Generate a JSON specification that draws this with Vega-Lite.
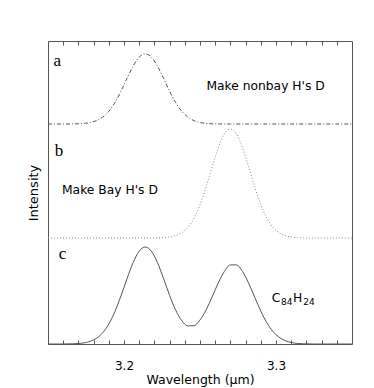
{
  "$schema": "https://vega.github.io/schema/vega-lite/v6.json",
  "width": 304,
  "height": 303,
  "autosize": "none",
  "padding": {"left": 48, "top": 41, "right": 22, "bottom": 44},
  "background": "white",
  "config": {"view": {"stroke": "#555", "strokeWidth": 1}},
  "datasets": {
    "spec": [
      {"w": 3.150, "a": 220, "b": 106, "c": 0},
      {"w": 3.154, "a": 220, "b": 106, "c": 0},
      {"w": 3.158, "a": 220, "b": 106, "c": 0},
      {"w": 3.162, "a": 220, "b": 106, "c": 0.1},
      {"w": 3.166, "a": 220.1, "b": 106, "c": 0.2},
      {"w": 3.170, "a": 220.2, "b": 106, "c": 0.5},
      {"w": 3.174, "a": 220.6, "b": 106, "c": 1.2},
      {"w": 3.178, "a": 221.5, "b": 106, "c": 2.8},
      {"w": 3.182, "a": 223.4, "b": 106, "c": 5.8},
      {"w": 3.186, "a": 226.9, "b": 106, "c": 11.3},
      {"w": 3.190, "a": 232.7, "b": 106, "c": 20.0},
      {"w": 3.194, "a": 241.4, "b": 106, "c": 32.4},
      {"w": 3.198, "a": 252.8, "b": 106, "c": 48.1},
      {"w": 3.202, "a": 265.7, "b": 106, "c": 65.4},
      {"w": 3.206, "a": 277.9, "b": 106, "c": 81.4},
      {"w": 3.210, "a": 286.8, "b": 106, "c": 92.8},
      {"w": 3.214, "a": 290, "b": 106, "c": 97.0},
      {"w": 3.218, "a": 286.8, "b": 106, "c": 92.8},
      {"w": 3.222, "a": 277.9, "b": 106.1, "c": 81.5},
      {"w": 3.226, "a": 265.7, "b": 106.4, "c": 65.6},
      {"w": 3.230, "a": 252.8, "b": 107.0, "c": 48.7},
      {"w": 3.234, "a": 241.4, "b": 108.4, "c": 33.9},
      {"w": 3.238, "a": 232.7, "b": 111.3, "c": 23.4},
      {"w": 3.242, "a": 226.9, "b": 116.7, "c": 18.1},
      {"w": 3.246, "a": 223.4, "b": 125.8, "c": 18.3},
      {"w": 3.250, "a": 221.5, "b": 139.4, "c": 24.0},
      {"w": 3.254, "a": 220.6, "b": 157.1, "c": 34.1},
      {"w": 3.258, "a": 220.2, "b": 177.2, "c": 47.2},
      {"w": 3.262, "a": 220.1, "b": 196.1, "c": 61.0},
      {"w": 3.266, "a": 220, "b": 210.0, "c": 72.5},
      {"w": 3.270, "a": 220, "b": 215, "c": 79.1},
      {"w": 3.274, "a": 220, "b": 210.0, "c": 79.1},
      {"w": 3.278, "a": 220, "b": 196.1, "c": 72.5},
      {"w": 3.282, "a": 220, "b": 177.2, "c": 60.8},
      {"w": 3.286, "a": 220, "b": 157.1, "c": 46.7},
      {"w": 3.290, "a": 220, "b": 139.4, "c": 32.9},
      {"w": 3.294, "a": 220, "b": 125.8, "c": 21.2},
      {"w": 3.298, "a": 220, "b": 116.7, "c": 12.5},
      {"w": 3.302, "a": 220, "b": 111.3, "c": 6.8},
      {"w": 3.306, "a": 220, "b": 108.4, "c": 3.4},
      {"w": 3.310, "a": 220, "b": 107.0, "c": 1.5},
      {"w": 3.314, "a": 220, "b": 106.4, "c": 0.6},
      {"w": 3.318, "a": 220, "b": 106.1, "c": 0.2},
      {"w": 3.322, "a": 220, "b": 106, "c": 0.1},
      {"w": 3.326, "a": 220, "b": 106, "c": 0},
      {"w": 3.330, "a": 220, "b": 106, "c": 0},
      {"w": 3.334, "a": 220, "b": 106, "c": 0},
      {"w": 3.338, "a": 220, "b": 106, "c": 0},
      {"w": 3.342, "a": 220, "b": 106, "c": 0},
      {"w": 3.346, "a": 220, "b": 106, "c": 0},
      {"w": 3.350, "a": 220, "b": 106, "c": 0}
    ],
    "labels": [
      {"w": 3.1537, "i": 278, "t": "a", "kind": "serif"},
      {"w": 3.1544, "i": 188, "t": "b", "kind": "serif"},
      {"w": 3.1570, "i": 85, "t": "c", "kind": "serif"},
      {"w": 3.2542, "i": 254, "t": "Make nonbay H's D", "kind": "sans"},
      {"w": 3.1592, "i": 150, "t": "Make Bay H's D", "kind": "sans"},
      {"w": 3.2972, "i": 42, "t": "C", "kind": "sans"},
      {"w": 3.3112, "i": 42, "t": "H", "kind": "sans"},
      {"w": 3.3033, "i": 39, "t": "84", "kind": "sub"},
      {"w": 3.3180, "i": 39, "t": "24", "kind": "sub"}
    ]
  },
  "resolve": {"axis": {"x": "independent", "y": "independent"}},
  "layer": [
    {
      "data": {"name": "spec"},
      "mark": {"type": "line", "color": "#555", "strokeWidth": 1, "strokeDash": [4, 2, 1, 2], "interpolate": "monotone"},
      "encoding": {
        "x": {"field": "w", "type": "quantitative", "scale": {"domain": [3.15, 3.35], "nice": false, "zero": false},
          "axis": {"orient": "bottom", "values": [3.16, 3.17, 3.18, 3.19, 3.2, 3.21, 3.22, 3.23, 3.24, 3.25, 3.26, 3.27, 3.28, 3.29, 3.3, 3.31, 3.32, 3.33, 3.34],
            "labelExpr": "(datum.value == 3.2 || datum.value == 3.3) ? format(datum.value, '.1f') : ''",
            "tickSize": -4, "ticks": true,
            "tickColor": "#555", "domain": false, "grid": false, "labelOverlap": false, "labelFlush": false,
            "labelFont": "DejaVu Sans", "labelFontSize": 12, "labelColor": "#000", "labelPadding": 20, "labelDx": -5,
            "title": "Wavelength (μm)", "titleFont": "DejaVu Sans", "titleFontSize": 12.5, "titleFontWeight": "normal", "titleColor": "#000", "titlePadding": 2}},
        "y": {"field": "a", "type": "quantitative", "scale": {"domain": [0, 303], "nice": false},
          "axis": {"orient": "left", "title": "Intensity", "ticks": false, "labels": false, "domain": false, "grid": false,
            "titleFont": "DejaVu Sans", "titleFontSize": 13, "titleFontWeight": "normal", "titleColor": "#000", "titlePadding": 8}}
      }
    },
    {
      "data": {"name": "spec"},
      "mark": {"type": "line", "color": "#888", "strokeWidth": 1, "strokeDash": [1, 2], "interpolate": "monotone"},
      "encoding": {
        "x": {"field": "w", "type": "quantitative",
          "axis": {"orient": "top", "values": [3.16, 3.17, 3.18, 3.19, 3.2, 3.21, 3.22, 3.23, 3.24, 3.25, 3.26, 3.27, 3.28, 3.29, 3.3, 3.31, 3.32, 3.33, 3.34],
            "labels": false, "title": null, "domain": false, "grid": false, "tickColor": "#555", "ticks": true, "tickSize": -4}},
        "y": {"field": "b", "type": "quantitative", "axis": null}
      }
    },
    {
      "data": {"name": "spec"},
      "mark": {"type": "line", "color": "#555", "strokeWidth": 1, "interpolate": "monotone"},
      "encoding": {
        "x": {"field": "w", "type": "quantitative", "axis": null},
        "y": {"field": "c", "type": "quantitative", "axis": null}
      }
    },
    {
      "data": {"name": "labels"},
      "transform": [{"filter": "datum.kind == 'serif'"}],
      "mark": {"type": "text", "align": "left", "baseline": "alphabetic", "font": "Liberation Serif", "fontSize": 17, "color": "#000"},
      "encoding": {
        "x": {"field": "w", "type": "quantitative", "axis": null},
        "y": {"field": "i", "type": "quantitative", "axis": null},
        "text": {"field": "t"}
      }
    },
    {
      "data": {"name": "labels"},
      "transform": [{"filter": "datum.kind == 'sans'"}],
      "mark": {"type": "text", "align": "left", "baseline": "alphabetic", "font": "DejaVu Sans", "fontSize": 12.3, "color": "#000"},
      "encoding": {
        "x": {"field": "w", "type": "quantitative", "axis": null},
        "y": {"field": "i", "type": "quantitative", "axis": null},
        "text": {"field": "t"}
      }
    },
    {
      "data": {"name": "labels"},
      "transform": [{"filter": "datum.kind == 'sub'"}],
      "mark": {"type": "text", "align": "left", "baseline": "alphabetic", "font": "DejaVu Sans", "fontSize": 9, "color": "#000"},
      "encoding": {
        "x": {"field": "w", "type": "quantitative", "axis": null},
        "y": {"field": "i", "type": "quantitative", "axis": null},
        "text": {"field": "t"}
      }
    }
  ]
}
